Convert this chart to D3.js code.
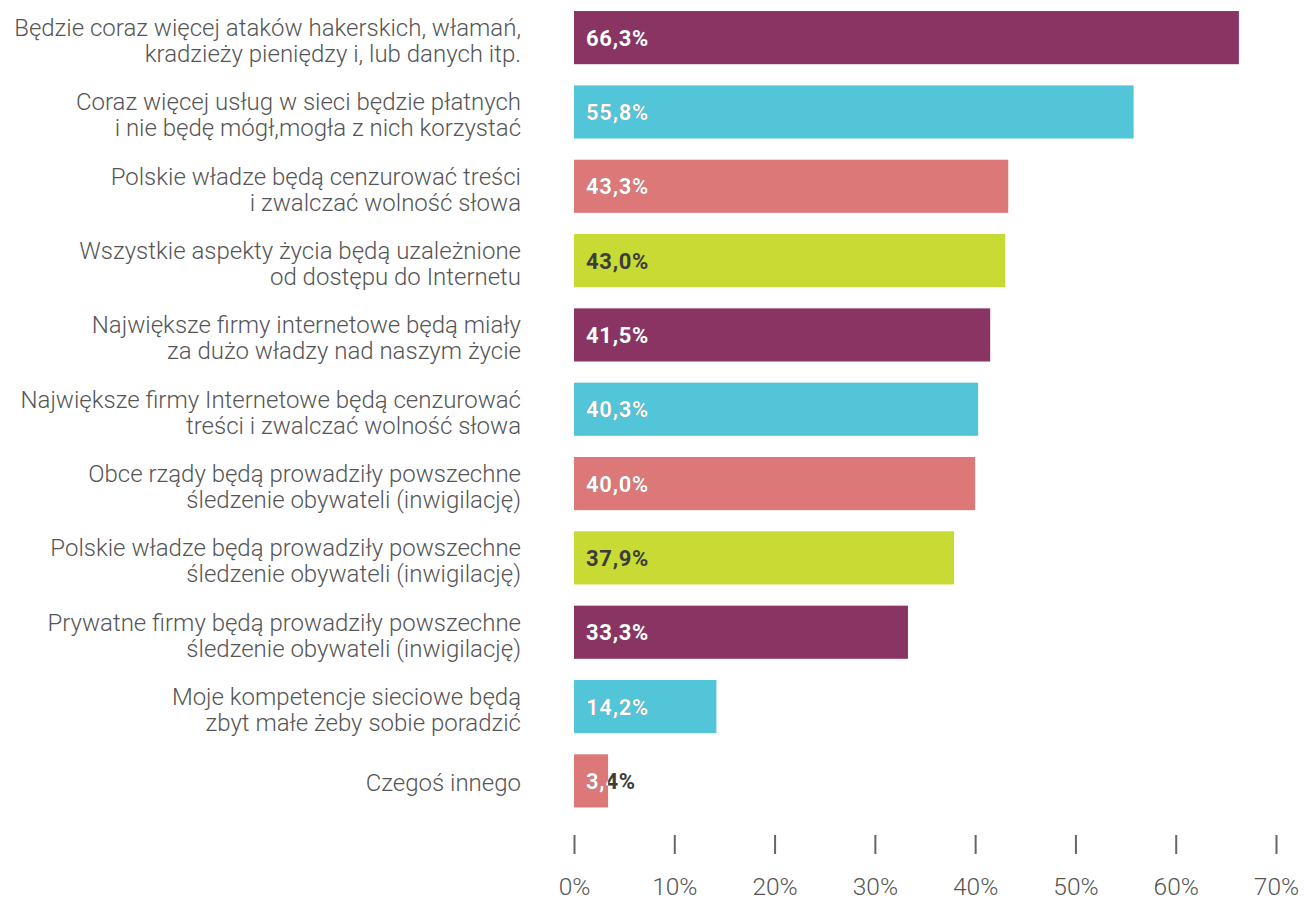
<!DOCTYPE html>
<html><head><meta charset="utf-8">
<script src="https://cdn.jsdelivr.net/npm/d3@7"></script>
<style>
body{margin:0;background:#fff;}
svg{display:block;}
</style></head>
<body>
<svg id="chart" width="1304" height="900"></svg>
<script>
const labels = [
  ["Będzie coraz więcej ataków hakerskich, włamań,", "kradzieży pieniędzy i, lub danych itp."],
  ["Coraz więcej usług w sieci będzie płatnych", "i nie będę mógł,mogła z nich korzystać"],
  ["Polskie władze będą cenzurować treści", "i zwalczać wolność słowa"],
  ["Wszystkie aspekty życia będą uzależnione", "od dostępu do Internetu"],
  ["Największe firmy internetowe będą miały", "za dużo władzy nad naszym życie"],
  ["Największe firmy Internetowe będą cenzurować", "treści i zwalczać wolność słowa"],
  ["Obce rządy będą prowadziły powszechne", "śledzenie obywateli (inwigilację)"],
  ["Polskie władze będą prowadziły powszechne", "śledzenie obywateli (inwigilację)"],
  ["Prywatne firmy będą prowadziły powszechne", "śledzenie obywateli (inwigilację)"],
  ["Moje kompetencje sieciowe będą", "zbyt małe żeby sobie poradzić"],
  ["Czegoś innego"]
];
const values = [66.3, 55.8, 43.3, 43.0, 41.5, 40.3, 40.0, 37.9, 33.3, 14.2, 3.4];
const valueLabels = ["66,3%","55,8%","43,3%","43,0%","41,5%","40,3%","40,0%","37,9%","33,3%","14,2%","3,4%"];
const tickValues = [0,10,20,30,40,50,60,70];
const tickLabels = ["0%","10%","20%","30%","40%","50%","60%","70%"];
const palette = ["#8a3464","#53c5d8","#dc7877","#c8db34"];

const svg = d3.select("#chart");
const x = d3.scaleLinear().domain([0,70]).range([574,1276]);
const y = d3.scaleBand().domain(d3.range(values.length)).range([0.5, 818]).paddingInner(0.285).paddingOuter(0.142);

const defs = svg.append("defs");
const g = svg.append("g");

values.forEach((v,i)=>{
  const col = palette[i%4];
  const yy = y(i), h = y.bandwidth();
  g.append("rect").attr("x",x(0)).attr("y",yy).attr("width",x(v)-x(0)).attr("height",h).attr("fill",col);
  defs.append("clipPath").attr("id","clip"+i).append("rect")
    .attr("x",x(0)).attr("y",yy).attr("width",x(v)-x(0)).attr("height",h);
  const ty = yy + h/2 + 8;
  const dark = "#3d3d3d";
  const addVal = (fill, clip) => {
    const t = g.append("text").attr("x",x(0)+12).attr("y",ty).text(valueLabels[i])
      .attr("font-family","Roboto").attr("font-weight",700).attr("font-size",22)
      .attr("letter-spacing",0.7).attr("fill",fill);
    if (clip) t.attr("clip-path","url(#clip"+i+")");
  };
  addVal(dark, false);
  if (i%4 !== 3) addVal("#fff", true);
  // category label
  const c = yy + h/2;
  const lines = labels[i];
  const t = g.append("text").attr("text-anchor","end")
    .attr("font-family","Roboto").attr("font-weight",300).attr("font-size",24).attr("fill","#555");
  if (lines.length === 1) {
    t.append("tspan").attr("x",521).attr("y",c+10).text(lines[0]);
  } else {
    t.append("tspan").attr("x",521).attr("y",c-1.5).text(lines[0]);
    t.append("tspan").attr("x",521).attr("y",c+24.5).text(lines[1]);
  }
});

// axis
const axis = d3.axisBottom(x).tickValues(tickValues).tickFormat((d,i)=>tickLabels[i]).tickSize(0).tickPadding(0);
const ag = svg.append("g").attr("transform","translate(0,835)").call(axis);
ag.select(".domain").remove();
ag.selectAll(".tick line").attr("y1",0).attr("y2",19).attr("stroke","#666").attr("stroke-width",2);
ag.selectAll(".tick text").attr("y",59.5).attr("dy",null)
  .attr("font-family","Roboto").attr("font-weight",300).attr("font-size",24.5).attr("fill","#555");
</script>
</body></html>
